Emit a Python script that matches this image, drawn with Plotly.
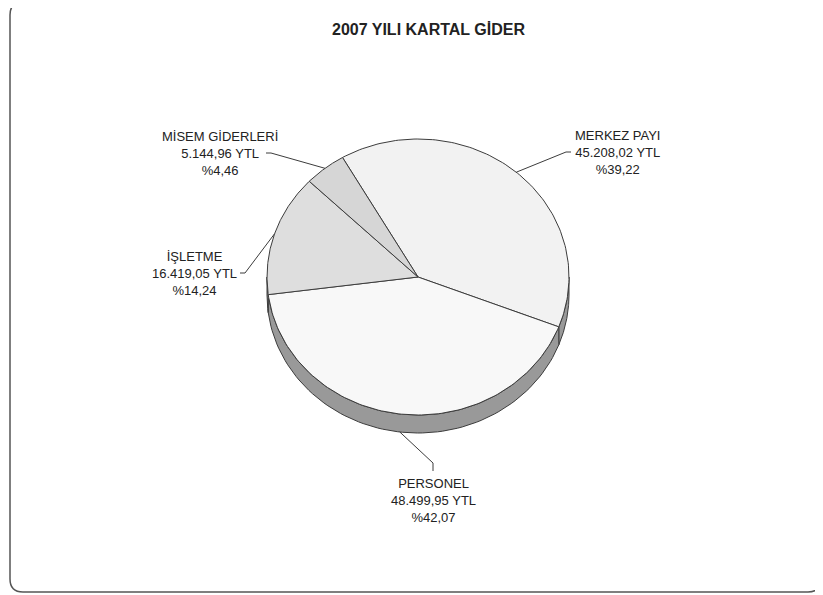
import numpy as np
import plotly.graph_objects as go

# 2007 Kartal gider dagilimi (YTL)
labels = ["MERKEZ PAYI", "PERSONEL", "İŞLETME", "MİSEM GİDERLERİ"]
values = [45208.02, 48499.95, 16419.05, 5144.96]
colors = ["#f2f2f2", "#f8f8f8", "#dedede", "#d6d6d6"]
title = "2007 YILI KARTAL GİDER"

# pie geometry in page pixel units (axes are mapped 1:1 to the page)
cx, cy = 418, 277
rx, ry = 151, 138
depth = 18
start = -30.0   # first slice angle, degrees clockwise from top
side_color = "#999999"
edge = "#3c3c3c"

# label anchor positions, picked by eye
label_pos = [(617, 152), (433, 500), (194, 273), (220, 153)]

# body has an 8px margin in the html page
off = 8


def tr_num(v):
    s = f"{v:,.2f}"
    return s.replace(",", "X").replace(".", ",").replace("X", ".")


def ell(t, dz=0):
    r = np.radians(t)
    return cx + rx * np.sin(r), cy - ry * np.cos(r) + dz


total = sum(values)
pct = [v / total * 100 for v in values]
angles = [start]
for p in pct:
    angles.append(angles[-1] + p * 3.6)

fig = go.Figure()

# side wall (only the front half, 90..270 deg is visible)
for i in range(len(values)):
    a0, a1 = angles[i], angles[i + 1]
    for sh in (0, 360, -360):
        lo, hi = max(a0 + sh, 90), min(a1 + sh, 270)
        if lo < hi:
            t = np.linspace(lo, hi, 80)
            xu, yu = ell(t)
            xl, yl = ell(t[::-1], depth)
            fig.add_trace(go.Scatter(
                x=np.concatenate([xu, xl, xu[:1]]),
                y=np.concatenate([yu, yl, yu[:1]]),
                mode="lines", fill="toself", fillcolor=side_color,
                line=dict(color=edge, width=1), hoverinfo="skip",
                showlegend=False))

# top face slices
for i in range(len(values)):
    t = np.linspace(angles[i], angles[i + 1], 120)
    xs, ys = ell(t)
    fig.add_trace(go.Scatter(
        x=np.concatenate([[cx], xs, [cx]]),
        y=np.concatenate([[cy], ys, [cy]]),
        mode="lines", fill="toself", fillcolor=colors[i],
        line=dict(color=edge, width=1), hoverinfo="skip",
        showlegend=False))

# labels + leader lines
annots = []
for i, lab in enumerate(labels):
    mid = (angles[i] + angles[i + 1]) / 2
    cosm = np.cos(np.radians(mid))
    px, py = ell(mid, depth if cosm < 0 else 0)
    ex, ey = label_pos[i]
    txt = f"{lab}<br>{tr_num(values[i])} YTL<br>%" + f"{pct[i]:.2f}".replace(".", ",")
    if ey > cy + ry:  # label below the pie
        lx = [px, ex, ex]
        ly = [py, ey - 37, ey - 29]
    else:
        s = 1 if ex < cx else -1
        tx = ex + s * 46
        lx = [px, tx + s * 5, tx]
        ly = [py, ey, ey]
    annots.append(dict(x=ex, y=ey, xref="x", yref="y", text=txt, showarrow=False,
                       xanchor="center", yanchor="middle"))
    fig.add_trace(go.Scatter(x=lx, y=ly, mode="lines",
                             line=dict(color=edge, width=1),
                             hoverinfo="skip", showlegend=False))

annots.append(dict(x=428, y=29, xref="x", yref="y", showarrow=False,
                   text=f"<b>{title}</b>", font=dict(size=16, color="#222222")))

# outer rounded frame
fig.add_shape(type="path", xref="x", yref="y",
              path="M 23,2 L 808,2 Q 821,2 821,15 L 821,579 Q 821,592 808,592 "
                   "L 23,592 Q 10,592 10,579 L 10,15 Q 10,2 23,2 Z",
              line=dict(color="#555555", width=1.5))

fig.update_layout(
    width=823 - off, height=595 - off,
    margin=dict(l=0, r=0, t=0, b=0),
    paper_bgcolor="white", plot_bgcolor="white",
    font=dict(family="Liberation Sans, Arial, sans-serif", size=13, color="#222222"),
    xaxis=dict(range=[off, 823], visible=False, fixedrange=True),
    yaxis=dict(range=[595, off], visible=False, fixedrange=True),
    annotations=annots,
)

fig.write_html("out.html")
